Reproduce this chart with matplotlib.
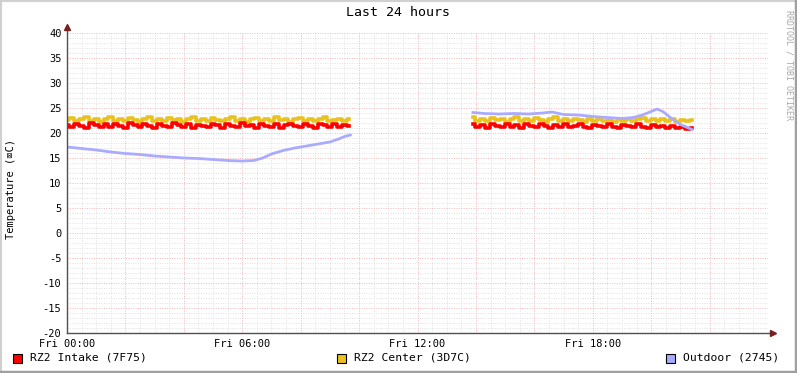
import numpy as np
import matplotlib
matplotlib.use("Agg")
import matplotlib.pyplot as plt
from matplotlib.lines import Line2D
from matplotlib.patches import Rectangle

# ---------------- data ----------------
title = "Last 24 hours"
ylabel = "Temperature (\u2327C)"
x_tick_hours = [0, 6, 12, 18]
x_tick_labels = ["Fri 00:00", "Fri 06:00", "Fri 12:00", "Fri 18:00"]
y_ticks = [-20, -15, -10, -5, 0, 5, 10, 15, 20, 25, 30, 35, 40]
series_names = ["RZ2 Intake (7F75)", "RZ2 Center (3D7C)", "Outdoor (2745)"]
series_colors = ["#FF0000", "#EAC21E", "#AAAAFF"]

seg1_start = 0.0
seg2_start = 13.9
step_h = 10 / 60

intake_seg1 = [21.6, 21.2, 21.9, 21.5, 21.1, 22.0, 21.6, 21.3, 21.9, 21.2,
               21.8, 21.5, 21.1, 22.0, 21.6, 21.2, 21.9, 21.4, 21.0, 21.8,
               21.5, 21.2, 22.0, 21.6, 21.3, 21.9, 21.1, 21.6, 21.5, 21.2,
               21.9, 21.6, 21.1, 21.8, 21.5, 21.2, 22.0, 21.4, 21.6, 21.1,
               21.9, 21.5, 21.2, 21.8, 21.0, 21.6, 21.9, 21.4, 21.2, 21.8,
               21.5, 21.1, 21.9, 21.6, 21.3, 21.8, 21.2, 21.6, 21.5]
center_seg1 = [22.7, 23.1, 22.4, 22.8, 23.2, 22.5, 22.9, 22.3, 22.8, 23.2,
               22.5, 22.9, 22.4, 23.1, 22.7, 22.3, 22.9, 23.2, 22.5, 22.8,
               22.4, 23.1, 22.7, 22.9, 22.3, 22.8, 23.2, 22.5, 22.9, 22.4,
               23.1, 22.7, 22.4, 22.9, 23.2, 22.5, 22.8, 22.3, 22.9, 23.1,
               22.5, 22.8, 22.4, 23.2, 22.7, 22.9, 22.3, 22.8, 23.1, 22.5,
               22.9, 22.4, 22.8, 23.2, 22.5, 22.7, 22.9, 22.4, 22.8]
intake_seg2 = [21.9, 21.3, 21.6, 21.1, 21.8, 21.5, 21.2, 21.9, 21.3, 21.6,
               21.1, 21.8, 21.5, 21.2, 21.9, 21.5, 21.1, 21.7, 21.3, 21.8,
               21.2, 21.5, 21.9, 21.3, 21.1, 21.7, 21.5, 21.2, 21.8, 21.3,
               21.1, 21.7, 21.5, 21.2, 21.8, 21.3, 21.1, 21.7, 21.2, 21.5,
               21.1, 21.4, 21.0, 21.3, 20.8, 21.1]
center_seg2 = [23.3, 22.5, 22.9, 22.4, 23.1, 22.7, 22.9, 22.3, 22.8, 23.2,
               22.5, 22.9, 22.4, 23.1, 22.7, 22.3, 22.9, 23.2, 22.5, 22.8,
               22.4, 22.9, 22.7, 22.3, 22.8, 22.5, 22.9, 22.4, 22.7, 22.3,
               22.8, 22.5, 22.9, 22.4, 22.8, 23.1, 22.5, 22.9, 22.4, 22.8,
               22.5, 22.9, 22.3, 22.7, 22.4, 22.6]

outdoor_hours_seg1 = [0.0, 0.5, 1.0, 1.5, 2.0, 2.5, 3.0, 3.5, 4.0, 4.5, 5.0,
                      5.5, 6.0, 6.4, 6.7, 7.0, 7.4, 7.8, 8.2, 8.6, 9.0, 9.3,
                      9.5, 9.7]
outdoor_seg1 = [17.2, 16.9, 16.6, 16.2, 15.9, 15.7, 15.4, 15.2, 15.0, 14.9,
                14.7, 14.5, 14.4, 14.5, 15.0, 15.8, 16.5, 17.0, 17.4, 17.8,
                18.2, 18.8, 19.3, 19.6]
outdoor_hours_seg2 = [13.9, 14.3, 14.8, 15.3, 15.8, 16.3, 16.6, 17.0, 17.5,
                      18.0, 18.5, 19.0, 19.4, 19.7, 20.0, 20.2, 20.4, 20.7,
                      21.0, 21.4]
outdoor_seg2 = [24.1, 23.9, 23.8, 23.9, 23.8, 24.0, 24.2, 23.7, 23.6, 23.3,
                23.1, 22.9, 23.1, 23.6, 24.3, 24.8, 24.3, 22.9, 21.7, 20.7]

# ---------------- figure ----------------
W, H = 797, 373
fig = plt.figure(figsize=(W / 100, H / 100), dpi=100)
fig.patch.set_facecolor("white")
mono = "DejaVu Sans Mono"

L, R, T, B = 67, 768, 33, 333
ax = fig.add_axes([L / W, 1 - B / H, (R - L) / W, (B - T) / H])
ax.set_facecolor("white")
ax.set_xlim(0, 24)
ax.set_ylim(-20, 40)
for s in ax.spines.values():
    s.set_visible(False)

# grid
minor_c = "#E0E0E0"
major_c = "#F0B8B8"
for h in np.arange(0, 24.01, 0.5):
    if abs(h % 2) < 1e-9:
        continue
    ax.axvline(h, color=minor_c, lw=0.7, ls=(0, (1, 1.5)), zorder=1)
for v in range(-20, 41):
    if v % 5 == 0:
        continue
    ax.axhline(v, color=minor_c, lw=0.7, ls=(0, (1, 1.5)), zorder=1)
for h in range(0, 25, 2):
    ax.axvline(h, color=major_c, lw=0.7, ls=(0, (1, 1.5)), zorder=1)
for v in range(-20, 41, 5):
    ax.axhline(v, color=major_c, lw=0.7, ls=(0, (1, 1.5)), zorder=1)

# series
t1 = seg1_start + step_h * np.arange(len(intake_seg1))
t2 = seg2_start + step_h * np.arange(len(intake_seg2))
ax.plot(t1, center_seg1, color=series_colors[1], lw=2.6, drawstyle="steps-mid", zorder=3)
ax.plot(t2, center_seg2, color=series_colors[1], lw=2.6, drawstyle="steps-mid", zorder=3)
ax.plot(t1, intake_seg1, color=series_colors[0], lw=2.6, drawstyle="steps-mid", zorder=4)
ax.plot(t2, intake_seg2, color=series_colors[0], lw=2.6, drawstyle="steps-mid", zorder=4)
ax.plot(outdoor_hours_seg1, outdoor_seg1, color=series_colors[2], lw=2.0, zorder=5)
ax.plot(outdoor_hours_seg2, outdoor_seg2, color=series_colors[2], lw=2.0, zorder=5)

# ticks
ax.set_xticks(x_tick_hours)
ax.set_xticklabels(x_tick_labels, fontfamily=mono, fontsize=7.5)
ax.set_yticks(y_ticks)
ax.set_yticklabels([str(v) for v in y_ticks], fontfamily=mono, fontsize=7.5)
ax.tick_params(axis="both", length=0, colors="black")
ax.tick_params(axis="y", pad=4)
ax.tick_params(axis="x", pad=4)

# axes lines and arrows
axis_c = "#505050"
arrow_c = "#7A1E1E"
fig.add_artist(Line2D([L / W, (R + 3) / W], [1 - B / H, 1 - B / H], color=axis_c, lw=1.0))
fig.add_artist(Line2D([L / W, L / W], [1 - B / H, 1 - (T - 5) / H], color=axis_c, lw=1.0))
fig.add_artist(Line2D([(R + 5) / W], [1 - B / H], marker=">", color=arrow_c, markersize=4, lw=0))
fig.add_artist(Line2D([L / W], [1 - (T - 6) / H], marker="^", color=arrow_c, markersize=4, lw=0))

# title and labels
fig.text(398 / W, 1 - 13 / H, title, ha="center", va="center", fontfamily=mono, fontsize=9.5)
fig.text(11 / W, 1 - 189 / H, ylabel, ha="center", va="center", rotation=90,
         fontfamily=[mono, "DejaVu Sans"], fontsize=7.5)
fig.text(789 / W, 1 - 65 / H, "RRDTOOL / TOBI OETIKER", ha="center", va="center",
         rotation=270, fontfamily=mono, fontsize=6, color="#A8A8A8")

# legend
leg_x = [17, 341, 670]
leg_y = 358
for x0, name, c in zip(leg_x, series_names, series_colors):
    fig.add_artist(Rectangle(((x0 - 4.5) / W, 1 - (leg_y + 4.5) / H), 9 / W, 9 / H,
                             facecolor=c, edgecolor="black", lw=0.8))
    fig.text((x0 + 13) / W, 1 - leg_y / H, name, ha="left", va="center",
             fontfamily=mono, fontsize=8.2)

# frame border
fig.add_artist(Line2D([0, 1], [1 - 0.5 / H, 1 - 0.5 / H], color="#D0D0D0", lw=1.5))
fig.add_artist(Line2D([0.5 / W, 0.5 / W], [0, 1], color="#D0D0D0", lw=1.5))
fig.add_artist(Line2D([0, 1], [1.5 / H, 1.5 / H], color="#A0A0A0", lw=2.5))
fig.add_artist(Line2D([1 - 1.5 / W, 1 - 1.5 / W], [0, 1], color="#A0A0A0", lw=2.5))

fig.savefig("out.png", dpi=100)
